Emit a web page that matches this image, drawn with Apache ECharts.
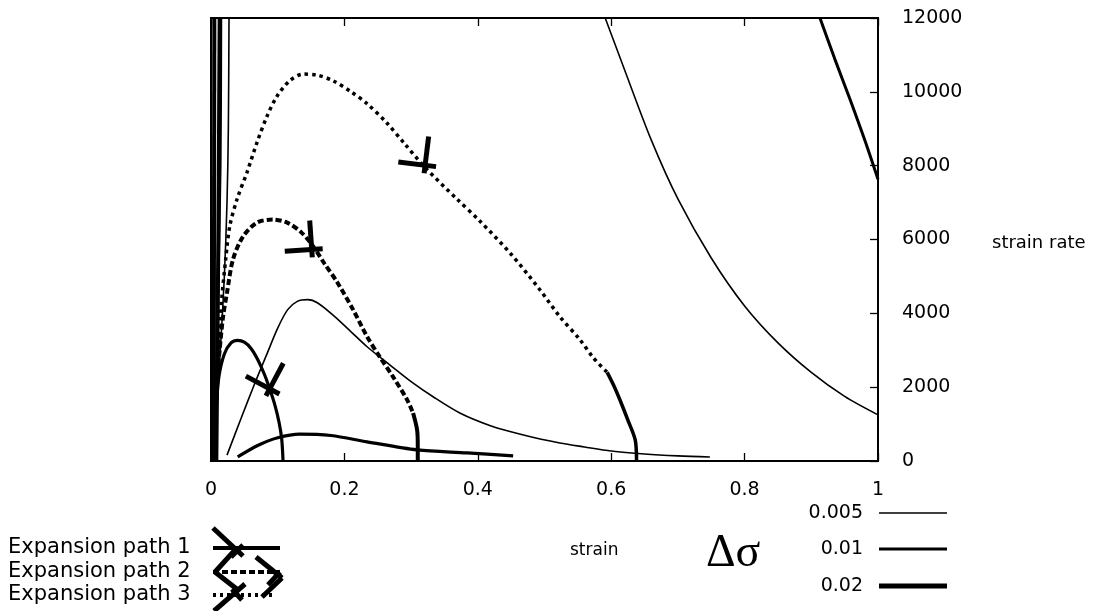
<!DOCTYPE html>
<html>
<head>
<meta charset="utf-8">
<script src="https://cdn.jsdelivr.net/npm/echarts@6/dist/echarts.min.js"></script>
<style>
  html, body { margin: 0; padding: 0; background: #fff; }
  #chart { width: 1102px; height: 611px; }
</style>
</head>
<body>
<div id="chart"></div>
<script>
// axis ticks
const xTicks = [0, 0.2, 0.4, 0.6, 0.8, 1]
const yTicks = [0, 2000, 4000, 6000, 8000, 10000, 12000]

// curves: [strain, strain rate]
// thin (0.005)
const thinHump = [[0.024,160],[0.045,1150],[0.066,2120],[0.085,2950],[0.1,3600],[0.115,4100],[0.13,4330],[0.145,4370],[0.16,4280],[0.183,3950],[0.21,3500],[0.234,3095],[0.268,2606],[0.30,2150],[0.333,1740],[0.373,1300],[0.42,950],[0.47,700],[0.523,490],[0.56,380],[0.6,270],[0.65,190],[0.7,140],[0.748,110]]
const thinRight = [[0.591,12000],[0.62,10600],[0.66,8700],[0.70,7100],[0.75,5500],[0.80,4200],[0.85,3200],[0.90,2400],[0.95,1750],[1.0,1250]]
const thinSteep = [[0.027,12000],[0.026,9000],[0.024,7000],[0.02,5000],[0.014,3000],[0.008,1200],[0.004,0]]
// medium (0.01)
const humpB = [[0.004,600],[0.008,1500],[0.012,2300],[0.02,2900],[0.03,3200],[0.04,3270],[0.05,3220],[0.06,3050],[0.07,2750],[0.08,2350],[0.088,1955],[0.096,1500],[0.102,1050],[0.106,600],[0.108,0]]
const lowC = [[0.04,110],[0.07,420],[0.1,630],[0.133,730],[0.18,690],[0.234,520],[0.309,300],[0.384,220],[0.453,140]]
const thickRight = [[0.913,12000],[0.935,10900],[0.958,9800],[0.98,8700],[1.0,7630]]
const steepA = [[0.004,0],[0.005,12000]]
const steepB = [[0.008,0],[0.011,6000],[0.013,12000]]
const steepC = [[0.015,12000],[0.014,8000],[0.01,4000],[0.006,0]]
// expansion path 2 (dashed) and 3 (dotted)
const path2 = [[0.0015,160],[0.0045,1110],[0.009,2200],[0.013,3010],[0.018,3900],[0.024,4560],[0.033,5460],[0.048,6080],[0.069,6460],[0.093,6540],[0.115,6450],[0.135,6200],[0.153,5820],[0.17,5350],[0.189,4850],[0.213,4100],[0.234,3370],[0.253,2820],[0.273,2280],[0.294,1660],[0.303,1300]]
const path2Tail = [[0.303,1300],[0.309,840],[0.31,400],[0.31,0]]
const path3 = [[0.0015,160],[0.006,1660],[0.0105,3010],[0.016,4370],[0.022,5460],[0.028,6350],[0.039,7090],[0.054,7820],[0.069,8630],[0.084,9340],[0.099,9880],[0.118,10300],[0.138,10480],[0.16,10450],[0.183,10300],[0.21,10000],[0.234,9680],[0.264,9150],[0.29,8600],[0.321,7950],[0.369,7090],[0.403,6500],[0.45,5600],[0.493,4640],[0.523,3910],[0.553,3290],[0.573,2800],[0.594,2400]]
const path3Tail = [[0.594,2400],[0.605,2000],[0.613,1660],[0.625,1110],[0.636,570],[0.638,0]]

// expansion markers on the curves
const markerPts = [[0.321,8010],[0.151,5730],[0.088,1955]]
const markerTilt = [7, -4, 28]

// legends
const pathNames = ['Expansion path 1', 'Expansion path 2', 'Expansion path 3']
const dsNames = ['0.005', '0.01', '0.02']

const font = 'DejaVu Sans'

function curve(data, width, dash) {
    return {
        type: 'line',
        data: data,
        showSymbol: false,
        smooth: 0.3,
        xAxisIndex: 0,
        yAxisIndex: 0,
        lineStyle: { color: '#000', width: width, type: dash || 'solid', cap: 'butt' },
        silent: true,
        z: 3
    }
}

function markerItem(params, api) {
    const p = api.coord([api.value(0), api.value(1)])
    const a = api.value(2) * Math.PI / 180
    const c = Math.cos(a), s = Math.sin(a)
    const rot = (dx, dy) => [p[0] + dx * c - dy * s, p[1] + dx * s + dy * c]
    const a1 = rot(-27, 0), a2 = rot(11, 0), b1 = rot(0, -29), b2 = rot(0, 8)
    const st = { stroke: '#000', lineWidth: 5, lineCap: 'butt' }
    return {
        type: 'group',
        children: [
            { type: 'line', shape: { x1: a1[0], y1: a1[1], x2: a2[0], y2: a2[1] }, style: st },
            { type: 'line', shape: { x1: b1[0], y1: b1[1], x2: b2[0], y2: b2[1] }, style: st }
        ]
    }
}

function seg(x1, y1, x2, y2, w, dash) {
    return {
        type: 'line',
        shape: { x1: x1, y1: y1, x2: x2, y2: y2 },
        style: { stroke: '#000', lineWidth: w, lineDash: dash || null, lineCap: 'butt' },
        silent: true
    }
}

function txt(text, x, y, size, align, family) {
    return {
        type: 'text',
        x: x, y: y,
        style: {
            text: text, fill: '#000', font: size + 'px "' + (family || font) + '"',
            textAlign: align || 'left', textVerticalAlign: 'middle'
        },
        silent: true
    }
}

const pathY = [548, 572, 595]
const dsY = [513, 549, 586]
const dsWidth = [1.5, 3, 5]

const graphics = [
    txt('strain rate', 992, 243, 18),
    txt('strain', 570, 551, 17),
    txt('Δσ', 706, 554, 46, 'left', 'Liberation Serif')
]
pathNames.forEach((n, i) => graphics.push(txt(n, 8, pathY[i], 21)))
dsNames.forEach((n, i) => {
    graphics.push(txt(n, 863, dsY[i], 19, 'right'))
    graphics.push(seg(879, dsY[i], 947, dsY[i], dsWidth[i]))
})
graphics.push(seg(213, pathY[0], 280, pathY[0], 4))
graphics.push(seg(213, pathY[1], 280, pathY[1], 4, [6, 3]))
graphics.push(seg(213, pathY[2], 276, pathY[2], 4, [3, 4]))
// crossed markers drawn over the path legend
graphics.push(seg(213, 528, 243, 556, 5))
graphics.push(seg(231, 557, 243, 545, 5))
graphics.push(seg(235, 550, 215, 572, 5))
graphics.push(seg(215, 572, 238, 590, 5))
graphics.push(seg(256, 557, 282, 578, 5))
graphics.push(seg(282, 578, 262, 597, 5))
graphics.push(seg(268, 585, 280, 572, 5))
graphics.push(seg(245, 584, 214, 611, 5))
graphics.push(seg(232, 589, 242, 600, 5))

// ticks point into the plot box
const tick = { show: true, inside: false, length: -8, lineStyle: { color: '#000', width: 1.3 } }

const option = {
    animation: false,
    backgroundColor: '#fff',
    grid: { left: 211, right: 224, top: 18, bottom: 150, show: true, borderColor: '#000', borderWidth: 2, backgroundColor: 'transparent' },
    xAxis: [
        {
            type: 'value', min: xTicks[0], max: xTicks[xTicks.length - 1], interval: 0.2,
            position: 'bottom',
            axisLine: { show: true, onZero: false, lineStyle: { color: '#000', width: 2 } },
            axisTick: tick,
            axisLabel: { color: '#000', fontSize: 19, fontFamily: font, margin: 20 },
            splitLine: { show: false }
        },
        {
            type: 'value', min: xTicks[0], max: xTicks[xTicks.length - 1], interval: 0.2,
            position: 'top',
            axisLine: { show: true, onZero: false, lineStyle: { color: '#000', width: 2 } },
            axisTick: tick,
            axisLabel: { show: false },
            splitLine: { show: false }
        }
    ],
    yAxis: [
        {
            type: 'value', min: yTicks[0], max: yTicks[yTicks.length - 1], interval: 2000,
            position: 'right',
            axisLine: { show: true, onZero: false, lineStyle: { color: '#000', width: 2 } },
            axisTick: tick,
            axisLabel: { color: '#000', fontSize: 19, fontFamily: font, margin: 24, formatter: v => String(v) },
            splitLine: { show: false }
        }
    ],
    series: [
        curve(thinHump, 1.6),
        curve(thinRight, 1.6),
        curve(thinSteep, 1.6),
        curve(humpB, 3.2),
        curve(lowC, 3.2),
        curve(thickRight, 3),
        curve(steepA, 4),
        curve(steepB, 4),
        curve(steepC, 2.5),
        curve(path2, 4, [6, 3]),
        curve(path2Tail, 4),
        curve(path3, 3.5, [3.5, 4]),
        curve(path3Tail, 3.5),
        {
            type: 'custom',
            renderItem: markerItem,
            xAxisIndex: 0,
            yAxisIndex: 0,
            clip: false,
            silent: true,
            z: 5,
            data: markerPts.map((p, i) => [p[0], p[1], markerTilt[i]])
        }
    ],
    graphic: graphics
}

const chart = echarts.init(document.getElementById('chart'))
chart.setOption(option)
</script>
</body>
</html>
